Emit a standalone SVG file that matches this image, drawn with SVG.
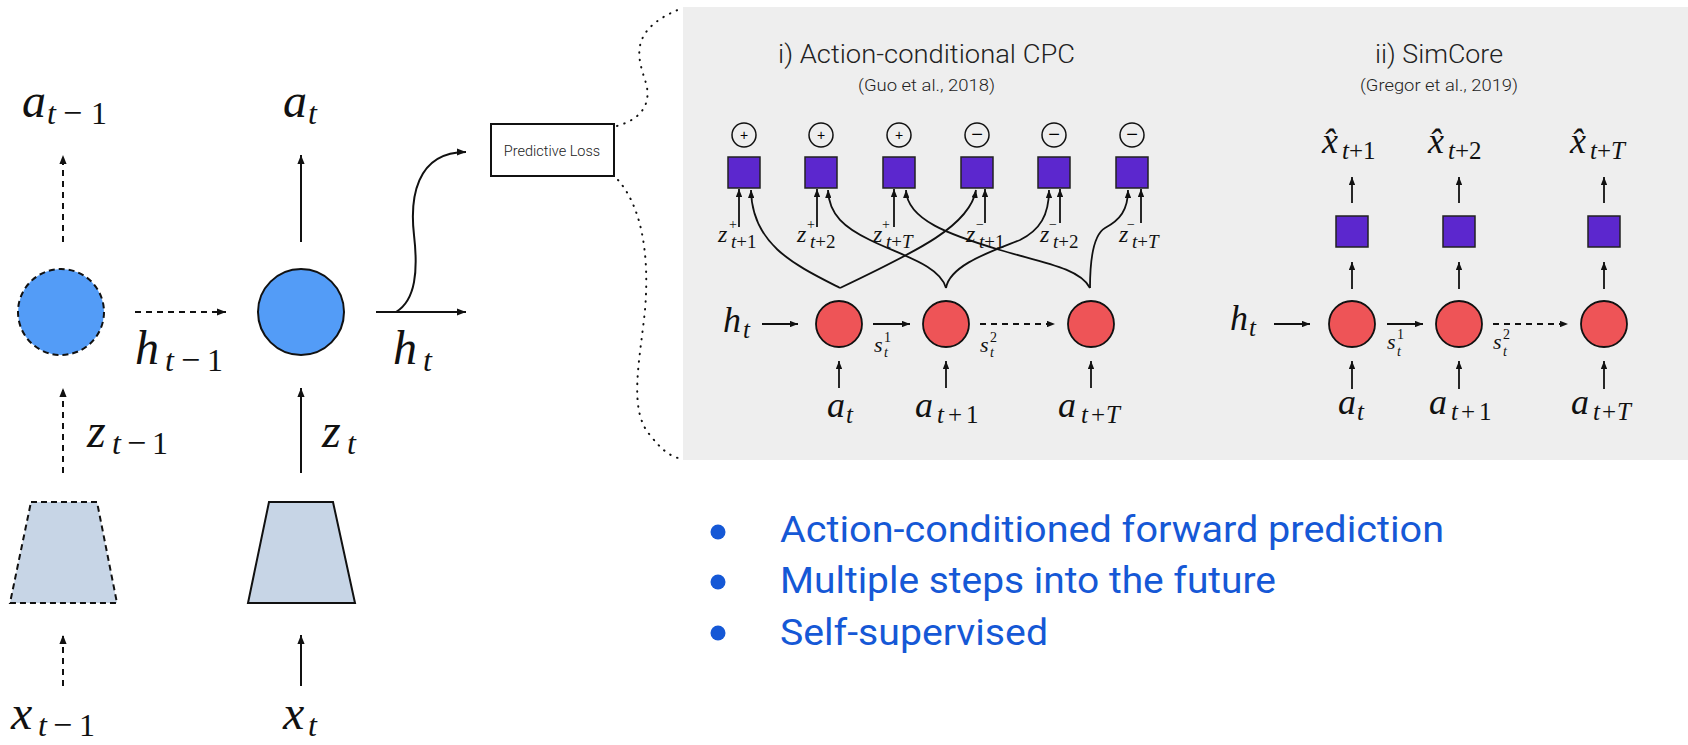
<svg xmlns="http://www.w3.org/2000/svg" width="1688" height="745" viewBox="0 0 1688 745">
<style>
.m{font-family:"Liberation Serif","DejaVu Serif",serif;fill:#111}
.i{font-style:italic}
.ln{stroke:#111;stroke-width:2;fill:none}
.dash{stroke-dasharray:6 5}
.pl{stroke:#111;stroke-width:1.8;fill:none}
.sans{font-family:Roboto,"Liberation Sans",sans-serif;font-weight:300;fill:#222}
.bul{font-family:Roboto,"Liberation Sans",sans-serif;fill:#1558d6;font-size:36px}
.red{fill:#ee5457;stroke:#111;stroke-width:1.8}
.sq{fill:#5c27ce;stroke:#222;stroke-width:1.5}
.pm{fill:none;stroke:#111;stroke-width:1.5}
.dot{fill:none;stroke:#111;stroke-width:2;stroke-dasharray:0.5 7;stroke-linecap:round}
</style>
<defs>
<marker id="ah" viewBox="0 0 10 8" refX="10" refY="4" markerWidth="9" markerHeight="7.2" markerUnits="userSpaceOnUse" orient="auto"><path d="M0,0 L10,4 L0,8 z" fill="#111"/></marker>
<marker id="as" viewBox="0 0 10 8" refX="10" refY="4" markerWidth="8" markerHeight="6.4" markerUnits="userSpaceOnUse" orient="auto"><path d="M0,0 L10,4 L0,8 z" fill="#111"/></marker>
</defs>

<rect id="panel" x="683" y="7" width="1005" height="453" fill="#eeeeee"/>

<g id="brace">
<path class="dot" d="M617,126 C645,118 652,100 645,80 C638,58 628,30 680,9"/>
<path class="dot" d="M618,180 C640,205 650,250 645,310 C640,360 628,410 650,435 C660,448 668,455 678,458"/>
</g>

<g id="node-prev-core"><circle cx="61" cy="312" r="43" fill="#539cf7" stroke="#111" stroke-width="2" stroke-dasharray="6 4"/></g>
<g id="node-core"><circle cx="301" cy="312" r="43" fill="#539cf7" stroke="#111" stroke-width="2"/></g>
<g id="node-prev-enc"><polygon points="31,502 97,502 117,603 10,603" fill="#c7d5e6" stroke="#111" stroke-width="2" stroke-dasharray="6 4"/></g>
<g id="node-enc"><polygon points="269,502 333,502 355,603 248,603" fill="#c7d5e6" stroke="#111" stroke-width="2"/></g>
<g id="node-loss"><rect x="491" y="124" width="123" height="52" fill="#fff" stroke="#111" stroke-width="2"/>
<text class="sans" x="552" y="156" font-size="14.5" font-weight="400" text-anchor="middle" fill="#333">Predictive Loss</text></g>

<g id="left-connectors">
<line class="ln dash" x1="63" y1="242" x2="63" y2="155" marker-end="url(#ah)"/>
<line class="ln" x1="301" y1="242" x2="301" y2="155" marker-end="url(#ah)"/>
<line class="ln dash" x1="135" y1="312" x2="226" y2="312" marker-end="url(#ah)"/>
<line class="ln" x1="376" y1="312" x2="466" y2="312" marker-end="url(#ah)"/>
<path class="ln" d="M396,312 C416,300 418,270 414,235 C410,200 415,152 466,152" marker-end="url(#ah)"/>
<line class="ln dash" x1="63" y1="473" x2="63" y2="388" marker-end="url(#ah)"/>
<line class="ln" x1="301" y1="473" x2="301" y2="388" marker-end="url(#ah)"/>
<line class="ln dash" x1="63" y1="686" x2="63" y2="635" marker-end="url(#ah)"/>
<line class="ln" x1="301" y1="686" x2="301" y2="635" marker-end="url(#ah)"/>
</g>

<g id="left-labels" class="m">
<text font-size="48"><tspan class="i" x="22" y="117">a</tspan><tspan class="i" font-size="32" x="47" y="124">t</tspan><tspan font-size="34" x="63" y="124">−</tspan><tspan font-size="32" x="91" y="124">1</tspan></text>
<text font-size="48"><tspan class="i" x="283" y="117">a</tspan><tspan class="i" font-size="32" x="308" y="124">t</tspan></text>
<text font-size="48"><tspan class="i" x="135" y="364">h</tspan><tspan class="i" font-size="32" x="165" y="371">t</tspan><tspan font-size="34" x="181" y="371">−</tspan><tspan font-size="32" x="207" y="371">1</tspan></text>
<text font-size="48"><tspan class="i" x="393" y="364">h</tspan><tspan class="i" font-size="32" x="423" y="371">t</tspan></text>
<text font-size="48"><tspan class="i" x="87" y="447">z</tspan><tspan class="i" font-size="32" x="112" y="454">t</tspan><tspan font-size="34" x="127" y="454">−</tspan><tspan font-size="32" x="152" y="454">1</tspan></text>
<text font-size="48"><tspan class="i" x="322" y="447">z</tspan><tspan class="i" font-size="32" x="347" y="454">t</tspan></text>
<text font-size="48"><tspan class="i" x="11" y="729">x</tspan><tspan class="i" font-size="32" x="38" y="736">t</tspan><tspan font-size="34" x="53" y="736">−</tspan><tspan font-size="32" x="79" y="736">1</tspan></text>
<text font-size="48"><tspan class="i" x="283" y="729">x</tspan><tspan class="i" font-size="32" x="308" y="736">t</tspan></text>
</g>

<g id="cpc-title">
<text class="sans" x="778" y="63" font-size="25" textLength="297" lengthAdjust="spacingAndGlyphs">i) Action-conditional CPC</text>
<text class="sans" x="858" y="91" font-size="16.5" textLength="137" lengthAdjust="spacingAndGlyphs" fill="#444">(Guo et al., 2018)</text>
</g>
<g id="cpc-signs">
<circle class="pm" cx="744" cy="135" r="12"/><text x="744" y="140" font-family="Liberation Sans,sans-serif" font-size="14" text-anchor="middle">+</text>
<circle class="pm" cx="821" cy="135" r="12"/><text x="821" y="140" font-family="Liberation Sans,sans-serif" font-size="14" text-anchor="middle">+</text>
<circle class="pm" cx="899" cy="135" r="12"/><text x="899" y="140" font-family="Liberation Sans,sans-serif" font-size="14" text-anchor="middle">+</text>
<circle class="pm" cx="977" cy="135" r="12"/><text x="977" y="141" font-family="Liberation Sans,sans-serif" font-size="20" text-anchor="middle">−</text>
<circle class="pm" cx="1054" cy="135" r="12"/><text x="1054" y="141" font-family="Liberation Sans,sans-serif" font-size="20" text-anchor="middle">−</text>
<circle class="pm" cx="1132" cy="135" r="12"/><text x="1132" y="141" font-family="Liberation Sans,sans-serif" font-size="20" text-anchor="middle">−</text>
</g>
<g id="cpc-sq1"><rect class="sq" x="728" y="157" width="32" height="31"/></g>
<g id="cpc-sq2"><rect class="sq" x="805" y="157" width="32" height="31"/></g>
<g id="cpc-sq3"><rect class="sq" x="883" y="157" width="32" height="31"/></g>
<g id="cpc-sq4"><rect class="sq" x="961" y="157" width="32" height="31"/></g>
<g id="cpc-sq5"><rect class="sq" x="1038" y="157" width="32" height="31"/></g>
<g id="cpc-sq6"><rect class="sq" x="1116" y="157" width="32" height="31"/></g>
<g id="cpc-c1"><circle class="red" cx="839" cy="324" r="23"/></g>
<g id="cpc-c2"><circle class="red" cx="946" cy="324" r="23"/></g>
<g id="cpc-c3"><circle class="red" cx="1091" cy="324" r="23"/></g>

<g id="cpc-connectors">
<line class="pl" x1="739" y1="227" x2="739" y2="189" marker-end="url(#as)"/>
<line class="pl" x1="817" y1="227" x2="817" y2="189" marker-end="url(#as)"/>
<line class="pl" x1="894" y1="227" x2="894" y2="189" marker-end="url(#as)"/>
<line class="pl" x1="985" y1="223" x2="985" y2="189" marker-end="url(#as)"/>
<line class="pl" x1="1060" y1="223" x2="1060" y2="189" marker-end="url(#as)"/>
<line class="pl" x1="1141" y1="223" x2="1141" y2="189" marker-end="url(#as)"/>
<path class="pl" d="M840,288 C795,265 752,245 751,190" marker-end="url(#as)"/>
<path class="pl" d="M840,288 C920,250 970,225 976,190" marker-end="url(#as)"/>
<path class="pl" d="M946,288 C940,265 900,255 870,240 C845,228 829,215 828,190" marker-end="url(#as)"/>
<path class="pl" d="M946,288 C950,265 990,252 1020,240 C1040,230 1049,215 1049,190" marker-end="url(#as)"/>
<path class="pl" d="M1090,288 C1080,268 1040,262 1000,250 C950,235 907,220 906,190" marker-end="url(#as)"/>
<path class="pl" d="M1090,288 C1090,262 1093,235 1105,228 C1120,220 1128,210 1128,190" marker-end="url(#as)"/>
<line class="pl" x1="762" y1="324" x2="798" y2="324" marker-end="url(#as)"/>
<line class="pl" x1="873" y1="324" x2="910" y2="324" marker-end="url(#as)"/>
<line class="pl dash" x1="980" y1="324" x2="1055" y2="324" marker-end="url(#as)"/>
<line class="pl" x1="839" y1="388" x2="839" y2="361" marker-end="url(#as)"/>
<line class="pl" x1="946" y1="388" x2="946" y2="361" marker-end="url(#as)"/>
<line class="pl" x1="1091" y1="388" x2="1091" y2="361" marker-end="url(#as)"/>
</g>

<g id="cpc-labels" class="m">
<text font-size="24"><tspan class="i" x="718" y="242">z</tspan><tspan font-size="14" x="729" y="229">+</tspan><tspan class="i" font-size="19" x="731" y="248">t</tspan><tspan font-size="19">+1</tspan></text>
<text font-size="24"><tspan class="i" x="797" y="242">z</tspan><tspan font-size="14" x="807" y="229">+</tspan><tspan class="i" font-size="19" x="810" y="248">t</tspan><tspan font-size="19">+2</tspan></text>
<text font-size="24"><tspan class="i" x="873" y="242">z</tspan><tspan font-size="14" x="882" y="229">+</tspan><tspan class="i" font-size="19" x="886" y="248">t</tspan><tspan font-size="19">+</tspan><tspan class="i" font-size="19">T</tspan></text>
<text font-size="24"><tspan class="i" x="966" y="242">z</tspan><tspan font-size="14" x="976" y="229">−</tspan><tspan class="i" font-size="19" x="979" y="248">t</tspan><tspan font-size="19">+1</tspan></text>
<text font-size="24"><tspan class="i" x="1040" y="242">z</tspan><tspan font-size="14" x="1049" y="229">−</tspan><tspan class="i" font-size="19" x="1053" y="248">t</tspan><tspan font-size="19">+2</tspan></text>
<text font-size="24"><tspan class="i" x="1119" y="242">z</tspan><tspan font-size="14" x="1127" y="229">−</tspan><tspan class="i" font-size="19" x="1132" y="248">t</tspan><tspan font-size="19">+</tspan><tspan class="i" font-size="19">T</tspan></text>
<text font-size="36"><tspan class="i" x="723" y="332">h</tspan><tspan class="i" font-size="25" x="743" y="338">t</tspan></text>
<text font-size="22"><tspan class="i" x="874" y="352">s</tspan><tspan font-size="14" x="884" y="342">1</tspan><tspan class="i" font-size="14" x="884" y="357">t</tspan></text>
<text font-size="22"><tspan class="i" x="980" y="352">s</tspan><tspan font-size="14" x="990" y="342">2</tspan><tspan class="i" font-size="14" x="990" y="357">t</tspan></text>
<text font-size="36"><tspan class="i" x="827" y="417">a</tspan><tspan class="i" font-size="25" x="846" y="423">t</tspan></text>
<text font-size="36"><tspan class="i" x="915" y="417">a</tspan><tspan class="i" font-size="25" x="937" y="423">t</tspan><tspan font-size="25" x="948" y="423">+</tspan><tspan font-size="25" x="966" y="423">1</tspan></text>
<text font-size="36"><tspan class="i" x="1058" y="417">a</tspan><tspan class="i" font-size="25" x="1081" y="423">t</tspan><tspan font-size="25" x="1091" y="423">+</tspan><tspan class="i" font-size="25" x="1106" y="423">T</tspan></text>
</g>

<g id="sim-title">
<text class="sans" x="1375" y="63" font-size="25" textLength="128" lengthAdjust="spacingAndGlyphs">ii) SimCore</text>
<text class="sans" x="1360" y="91" font-size="16.5" textLength="158" lengthAdjust="spacingAndGlyphs" fill="#444">(Gregor et al., 2019)</text>
</g>
<g id="sim-sq1"><rect class="sq" x="1336" y="216" width="32" height="31"/></g>
<g id="sim-sq2"><rect class="sq" x="1443" y="216" width="32" height="31"/></g>
<g id="sim-sq3"><rect class="sq" x="1588" y="216" width="32" height="31"/></g>
<g id="sim-c1"><circle class="red" cx="1352" cy="324" r="23"/></g>
<g id="sim-c2"><circle class="red" cx="1459" cy="324" r="23"/></g>
<g id="sim-c3"><circle class="red" cx="1604" cy="324" r="23"/></g>

<g id="sim-connectors">
<line class="pl" x1="1352" y1="203" x2="1352" y2="177" marker-end="url(#as)"/>
<line class="pl" x1="1459" y1="203" x2="1459" y2="177" marker-end="url(#as)"/>
<line class="pl" x1="1604" y1="203" x2="1604" y2="177" marker-end="url(#as)"/>
<line class="pl" x1="1352" y1="289" x2="1352" y2="262" marker-end="url(#as)"/>
<line class="pl" x1="1459" y1="289" x2="1459" y2="262" marker-end="url(#as)"/>
<line class="pl" x1="1604" y1="289" x2="1604" y2="262" marker-end="url(#as)"/>
<line class="pl" x1="1274" y1="324" x2="1310" y2="324" marker-end="url(#as)"/>
<line class="pl" x1="1387" y1="324" x2="1423" y2="324" marker-end="url(#as)"/>
<line class="pl dash" x1="1493" y1="324" x2="1568" y2="324" marker-end="url(#as)"/>
<line class="pl" x1="1352" y1="389" x2="1352" y2="361" marker-end="url(#as)"/>
<line class="pl" x1="1459" y1="389" x2="1459" y2="361" marker-end="url(#as)"/>
<line class="pl" x1="1604" y1="389" x2="1604" y2="361" marker-end="url(#as)"/>
</g>

<g id="sim-labels" class="m">
<text font-size="36"><tspan class="i" x="1322" y="153">x̂</tspan><tspan class="i" font-size="25" x="1342" y="159">t</tspan><tspan font-size="25">+1</tspan></text>
<text font-size="36"><tspan class="i" x="1428" y="153">x̂</tspan><tspan class="i" font-size="25" x="1448" y="159">t</tspan><tspan font-size="25">+2</tspan></text>
<text font-size="36"><tspan class="i" x="1570" y="153">x̂</tspan><tspan class="i" font-size="25" x="1590" y="159">t</tspan><tspan font-size="25">+</tspan><tspan class="i" font-size="25">T</tspan></text>
<text font-size="36"><tspan class="i" x="1230" y="330">h</tspan><tspan class="i" font-size="25" x="1249" y="336">t</tspan></text>
<text font-size="22"><tspan class="i" x="1387" y="349">s</tspan><tspan font-size="14" x="1397" y="339">1</tspan><tspan class="i" font-size="14" x="1397" y="356">t</tspan></text>
<text font-size="22"><tspan class="i" x="1493" y="349">s</tspan><tspan font-size="14" x="1503" y="339">2</tspan><tspan class="i" font-size="14" x="1503" y="356">t</tspan></text>
<text font-size="36"><tspan class="i" x="1338" y="414">a</tspan><tspan class="i" font-size="25" x="1357" y="420">t</tspan></text>
<text font-size="36"><tspan class="i" x="1429" y="414">a</tspan><tspan class="i" font-size="25" x="1451" y="420">t</tspan><tspan font-size="25" x="1461" y="420">+</tspan><tspan font-size="25" x="1479" y="420">1</tspan></text>
<text font-size="36"><tspan class="i" x="1571" y="414">a</tspan><tspan class="i" font-size="25" x="1593" y="420">t</tspan><tspan font-size="25" x="1602" y="420">+</tspan><tspan class="i" font-size="25" x="1617" y="420">T</tspan></text>
</g>

<g id="bullets">
<circle cx="718" cy="532" r="7.5" fill="#1558d6"/>
<circle cx="718" cy="582" r="7.5" fill="#1558d6"/>
<circle cx="718" cy="633" r="7.5" fill="#1558d6"/>
<text class="bul" x="780" y="542" textLength="664" lengthAdjust="spacingAndGlyphs">Action-conditioned forward prediction</text>
<text class="bul" x="780" y="593" textLength="496" lengthAdjust="spacingAndGlyphs">Multiple steps into the future</text>
<text class="bul" x="780" y="645" textLength="268" lengthAdjust="spacingAndGlyphs">Self-supervised</text>
</g>
</svg>
